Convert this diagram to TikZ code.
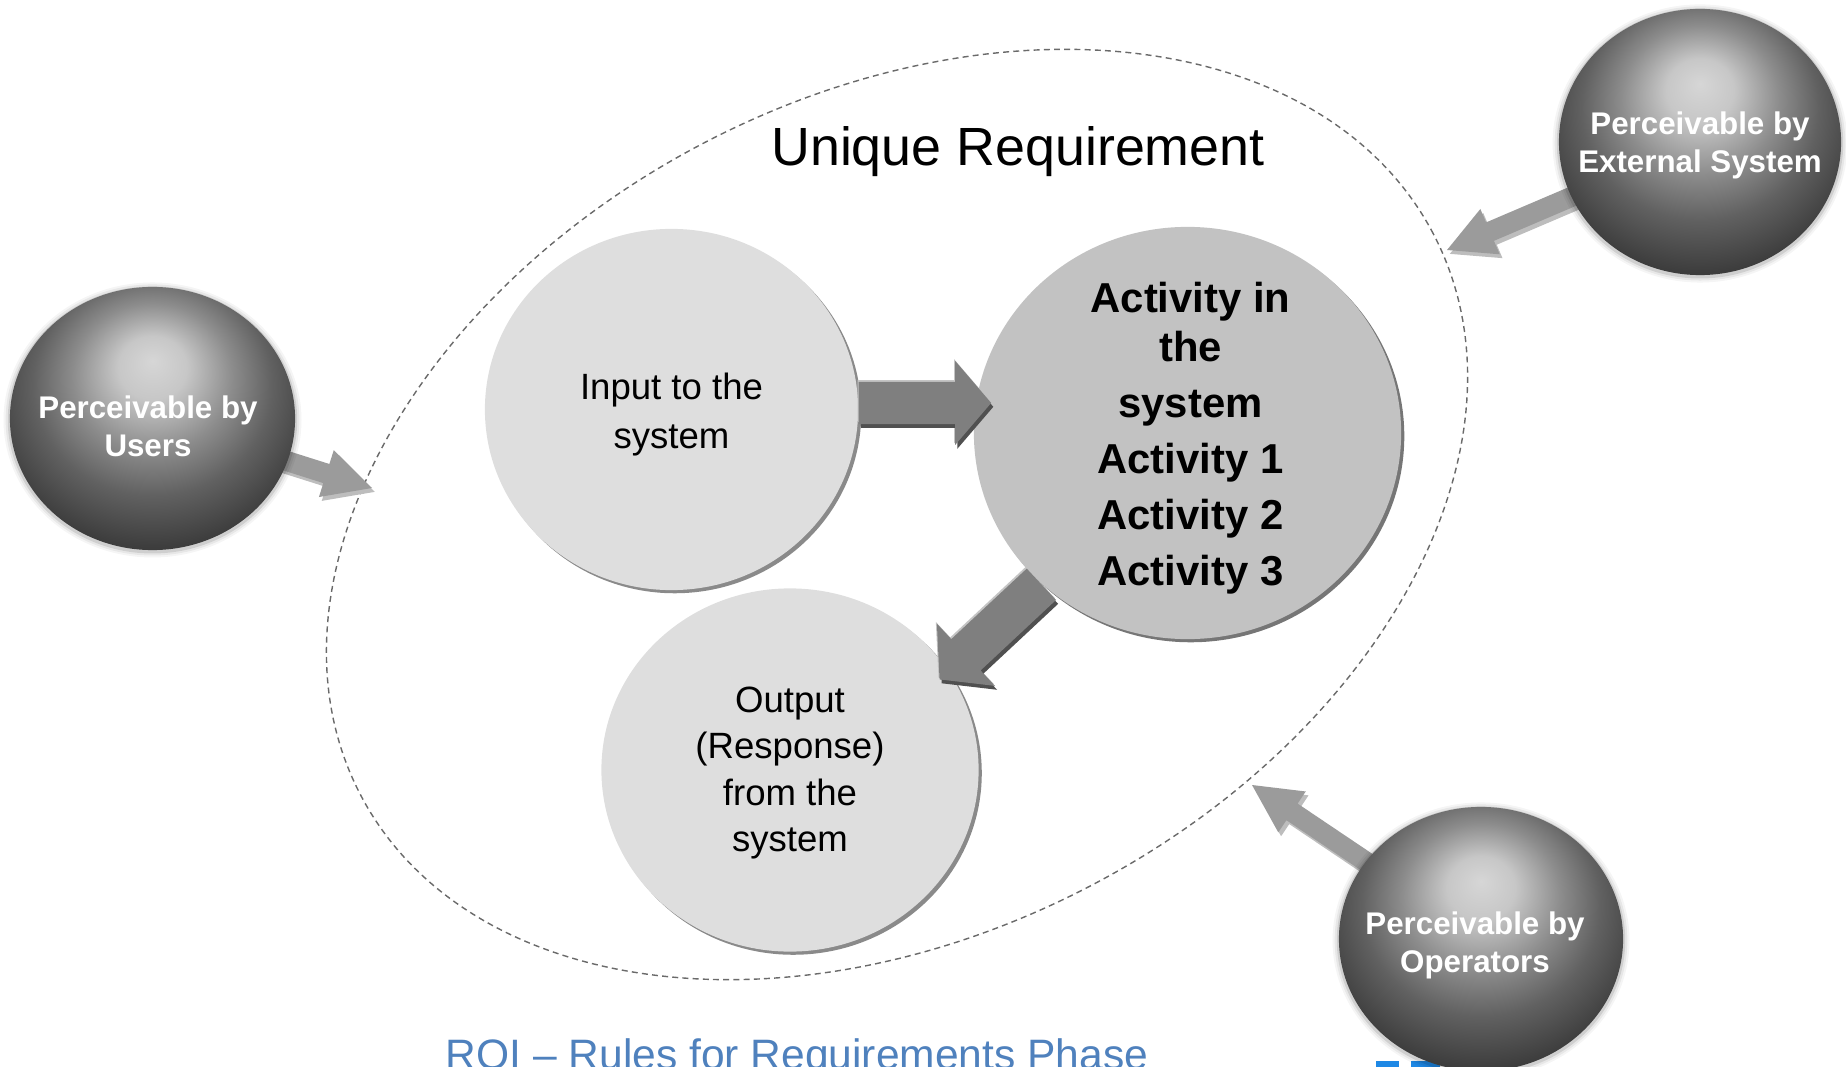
\documentclass[tikz,border=0pt]{standalone}
\usepackage{fontspec}
\setmainfont{Liberation Sans}
\usetikzlibrary{calc,shapes.geometric,shadows}
\definecolor{lightfill}{HTML}{DEDEDE}
\definecolor{actfill}{HTML}{C2C2C2}
\definecolor{rimdark}{HTML}{8A8A8A}
\definecolor{rimact}{HTML}{767676}
\definecolor{arrowgray}{HTML}{7F7F7F}
\definecolor{arrowshadow}{HTML}{505050}
\definecolor{arrowhigh}{HTML}{C4C4C4}
\definecolor{outarrow}{HTML}{9B9B9B}
\definecolor{outshadow}{HTML}{BDBDBD}
\definecolor{dashgray}{HTML}{6A6A6A}
\definecolor{rqiblue}{HTML}{4F81BD}
\definecolor{logoblue}{HTML}{1E88E5}
\pgfdeclareradialshading{sphereshade}{\pgfpoint{0bp}{11bp}}{color(0bp)=(black!16); color(6bp)=(black!22); color(14bp)=(black!45); color(21bp)=(black!62); color(29bp)=(black!76); color(37bp)=(black!83); color(50bp)=(black!85)}
% #1 extra options, #2 start, #3 tip, #4 half shaft, #5 half head, #6 head length (pt), #7 colour
\newcommand\blockarrow[7][]{%
  \fill[#7,#1] let \p1=($(#3)-(#2)$), \n1={atan2(\y1,\x1)}, \n2={veclen(\x1,\y1)}, \n3={\n2-#6pt} in
    ($(#2)+(\n1+90:#4pt)$) -- ($(#2)+(\n1:\n3)+(\n1+90:#4pt)$) -- ($(#2)+(\n1:\n3)+(\n1+90:#5pt)$)
    -- (#3) -- ($(#2)+(\n1:\n3)+(\n1-90:#5pt)$) -- ($(#2)+(\n1:\n3)+(\n1-90:#4pt)$)
    -- ($(#2)+(\n1-90:#4pt)$) -- cycle;}
\begin{document}
\begin{tikzpicture}[x=0.01cm,y=-0.01cm,
  softcircle/.style={ellipse, inner sep=0pt, fill=lightfill,
    drop shadow={shadow xshift=0.9pt, shadow yshift=-0.9pt, fill=rimdark, opacity=1}},
  actcircle/.style={ellipse, inner sep=0pt, fill=actfill,
    drop shadow={shadow xshift=0.9pt, shadow yshift=-0.9pt, fill=rimact, opacity=1}},
  sphere/.style={ellipse, inner sep=0pt, shading=sphereshade,
    drop shadow={shadow xshift=0pt, shadow yshift=-0.4pt, shadow scale=1.045, fill=black, opacity=.04},
    drop shadow={shadow xshift=0pt, shadow yshift=-0.4pt, shadow scale=1.03, fill=black, opacity=.06},
    drop shadow={shadow xshift=0pt, shadow yshift=-0.4pt, shadow scale=1.015, fill=black, opacity=.10}},
  boundary/.style={ellipse, inner sep=0pt, draw=dashgray, line width=0.4pt, dash pattern=on 1.7pt off 1.2pt},
  bodytext/.style={font=\fontsize{10.4pt}{14pt}\selectfont, align=center, text=black},
  outtext/.style={font=\fontsize{10.4pt}{13.2pt}\selectfont, align=center, text=black},
  acttext/.style={font=\bfseries\fontsize{11.9pt}{15.9pt}\selectfont, align=center, text=black},
  spheretext/.style={font=\bfseries\fontsize{8.9pt}{10.8pt}\selectfont, align=center, text=white}
]
\useasboundingbox (0,0) rectangle (1846,1067);

% scope boundary
\node[boundary, minimum width=12.1cm, minimum height=8.37cm, rotate=27.6] (bound) at (897,514.5) {};

% inner circles
\node[softcircle, minimum width=3.73cm, minimum height=3.61cm] (inp) at (671.5,409.5) {};
\node[actcircle, minimum width=4.27cm, minimum height=4.12cm] (act) at (1187.5,433) {};
\node[softcircle, minimum width=3.77cm, minimum height=3.63cm] (out) at (790,770) {};

% inner block arrows
\coordinate (a1tip) at ($(inp.2 -| act.west)+(18,0)$);
\coordinate (a2tip) at ($(act.226)!1.1!(out.32.5)$);
\blockarrow[transform canvas={xshift=-0.3pt,yshift=0.5pt}]{inp.2}{a1tip}{5.98}{11.95}{10.24}{arrowhigh}
\blockarrow[transform canvas={xshift=0.6pt,yshift=-1.1pt}]{inp.2}{a1tip}{5.98}{11.95}{10.24}{arrowshadow}
\blockarrow{inp.2}{a1tip}{5.98}{11.95}{10.24}{arrowgray}
\blockarrow[transform canvas={xshift=-0.3pt,yshift=0.5pt}]{act.226}{a2tip}{6.1}{12.1}{10.24}{arrowhigh}
\blockarrow[transform canvas={xshift=0.6pt,yshift=-1.1pt}]{act.226}{a2tip}{6.1}{12.1}{10.24}{arrowshadow}
\blockarrow{act.226}{a2tip}{6.1}{12.1}{10.24}{arrowgray}

% texts in circles
\node[bodytext] (inptext) at ($(inp)+(0,5)$) {Input to the\\system};
\node[outtext] (outtext) at ($(out)+(0,3)$) {Output\\(Response)\\from the\\system};
\node[acttext] (acttxt) at ($(act)+(3,5)$) {Activity in\\[-2pt]the\\system\\Activity 1\\Activity 2\\Activity 3};

% title
\node[font=\fontsize{15.3pt}{18pt}\selectfont, anchor=base] (title) at (1018,166) {Unique Requirement};

% outer arrows (drawn under the spheres)
\coordinate (uTip) at (372,488);
\coordinate (eTip) at (1447,250);
\coordinate (oTip) at (1252,785);
\coordinate (uc) at (152.5,418.5);
\coordinate (ec) at (1700,142);
\coordinate (oc) at (1481,939);
\blockarrow[transform canvas={xshift=0.8pt,yshift=-1.1pt}]{uc}{uTip}{2.85}{7}{13.6}{outshadow}
\blockarrow{uc}{uTip}{2.85}{7}{13.6}{outarrow}
\blockarrow[transform canvas={xshift=0.8pt,yshift=-1.1pt}]{ec}{eTip}{2.85}{7}{13.2}{outshadow}
\blockarrow{ec}{eTip}{2.85}{7}{13.2}{outarrow}
\blockarrow[transform canvas={xshift=0.8pt,yshift=-1.1pt}]{oc}{oTip}{2.85}{7}{13.6}{outshadow}
\blockarrow{oc}{oTip}{2.85}{7}{13.6}{outarrow}

% logo fragment
\fill[logoblue] (1376,1061) rectangle (1399,1075);
\fill[logoblue] (1411,1061) rectangle (1440,1075);

% spheres
\node[sphere, minimum width=2.85cm, minimum height=2.63cm] (usr) at (uc) {};
\node[sphere, minimum width=2.82cm, minimum height=2.66cm] (ext) at (ec) {};
\node[sphere, minimum width=2.84cm, minimum height=2.64cm] (op) at (oc) {};
\node[spheretext] (usrtext) at ($(usr)+(-4.5,7.5)$) {Perceivable by\\Users};
\node[spheretext] (exttext) at ($(ext)+(0,3.5)$) {Perceivable by\\External System};
\node[spheretext] (optext) at ($(op)+(-6,6)$) {Perceivable by\\Operators};

% footer (cut by the lower edge, as in the reference)
\node[font=\fontsize{12.1pt}{14pt}\selectfont, text=rqiblue, anchor=base west, inner sep=0pt] (footer) at (445,1069) {RQI – Rules for Requirements Phase};
\end{tikzpicture}
\end{document}
